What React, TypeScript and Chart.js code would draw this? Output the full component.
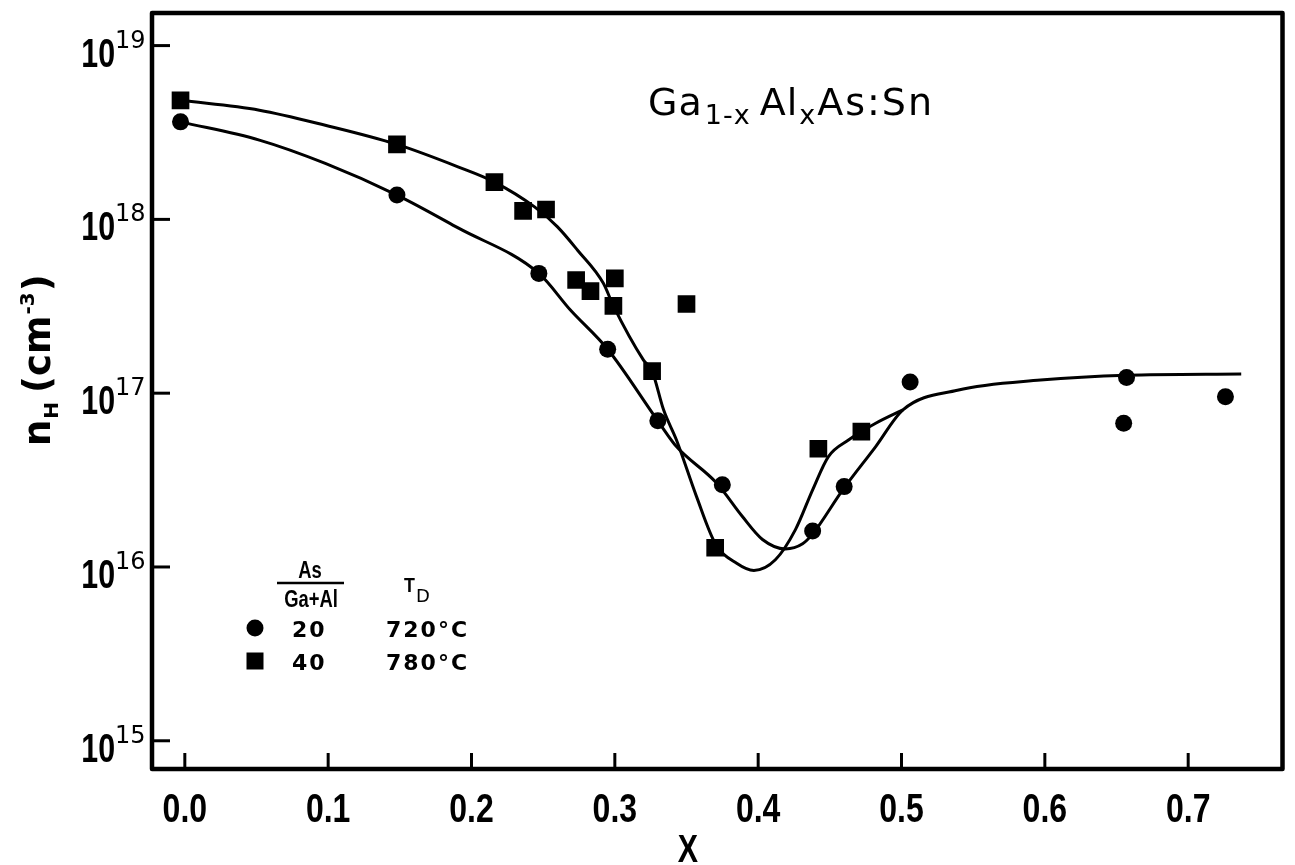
import React, { useEffect, useRef } from "react";
import { Chart, registerables } from "chart.js";

Chart.register(...registerables);

// ---- axis ticks ----
const xTickValues = [0, 0.1, 0.2, 0.3, 0.4, 0.5, 0.6, 0.7];
const xTickLabels = ["0.0", "0.1", "0.2", "0.3", "0.4", "0.5", "0.6", "0.7"];
const yTickValues = [1e15, 1e16, 1e17, 1e18, 1e19];
const yTickExponents = ["15", "16", "17", "18", "19"];

// ---- measured points: As/(Ga+Al)=20, TD=720°C (circles) ----
const circleX = [-0.003, 0.148, 0.247, 0.295, 0.33, 0.375, 0.438, 0.46, 0.506, 0.655, 0.657, 0.726];
const circleY = [3.64e18, 1.38e18, 4.89e17, 1.79e17, 6.93e16, 2.97e16, 1.61e16, 2.9e16, 1.16e17, 6.71e16, 1.23e17, 9.55e16];

// ---- measured points: As/(Ga+Al)=40, TD=780°C (squares) ----
const squareX = [-0.003, 0.148, 0.216, 0.236, 0.252, 0.273, 0.283, 0.299, 0.3, 0.326, 0.35, 0.37, 0.442, 0.472];
const squareY = [4.84e18, 2.7e18, 1.64e18, 1.12e18, 1.14e18, 4.48e17, 3.87e17, 3.18e17, 4.58e17, 1.34e17, 3.26e17, 1.29e16, 4.79e16, 6.01e16];

// ---- fitted curve through circles ----
const fit720X = [-0.003, 0.052, 0.098, 0.148, 0.191, 0.247, 0.269, 0.295, 0.33, 0.343, 0.371, 0.389, 0.403, 0.419, 0.431, 0.438, 0.459, 0.482, 0.501, 0.539, 0.597, 0.657, 0.737];
const fit720Y = [3.64e18, 2.86e18, 2.1e18, 1.38e18, 8.9e17, 4.89e17, 3.01e17, 1.79e17, 6.93e16, 4.93e16, 3.04e16, 1.95e16, 1.44e16, 1.27e16, 1.36e16, 1.55e16, 2.78e16, 4.93e16, 8.02e16, 1.04e17, 1.19e17, 1.27e17, 1.29e17];

// ---- fitted curve through squares ----
const fit780X = [-0.003, 0.052, 0.098, 0.148, 0.191, 0.216, 0.244, 0.26, 0.274, 0.292, 0.299, 0.32, 0.326, 0.334, 0.343, 0.357, 0.37, 0.385, 0.397, 0.412, 0.426, 0.438, 0.449, 0.463, 0.482, 0.501];
const fit780Y = [4.84e18, 4.25e18, 3.48e18, 2.7e18, 2.0e18, 1.64e18, 1.18e18, 9.06e17, 6.65e17, 4.29e17, 3.18e17, 1.55e17, 1.34e17, 8.02e16, 5.38e16, 2.54e16, 1.37e16, 1.05e16, 9.55e15, 1.1e16, 1.64e16, 2.78e16, 4.32e16, 5.38e16, 6.71e16, 8.02e16];

// ---- legend text ----
const legendRatios = ["20", "40"];
const legendTemps = ["720°C", "780°C"];

const CONDENSED = "'Liberation Sans', Arial, sans-serif";
const ROUND = "'DejaVu Sans', Verdana, sans-serif";

function toPts(xs: number[], ys: number[]) {
  return xs.map((x, i) => ({ x, y: ys[i] }));
}

function drawCondensed(ctx: CanvasRenderingContext2D, text: string, x: number, y: number, font: string, sx: number, align: CanvasTextAlign) {
  ctx.save();
  ctx.translate(x, y);
  ctx.scale(sx, 1);
  ctx.font = font;
  ctx.textAlign = align;
  ctx.textBaseline = "alphabetic";
  ctx.fillText(text, 0, 0);
  ctx.restore();
}

const decorPlugin = {
  id: "decor",
  afterDraw(chart: any) {
    const ctx: CanvasRenderingContext2D = chart.ctx;
    const { left, right, top, bottom } = chart.chartArea;
    const xs = chart.scales.x;
    const ys = chart.scales.y;
    ctx.save();
    ctx.strokeStyle = "#000";
    ctx.fillStyle = "#000";

    // frame
    ctx.lineWidth = 4.5;
    ctx.lineJoin = "round";
    ctx.strokeRect(left, top, right - left, bottom - top);

    // y ticks + labels
    ctx.lineWidth = 3;
    yTickValues.forEach((v, i) => {
      const py = ys.getPixelForValue(v);
      ctx.beginPath();
      ctx.moveTo(left, py);
      ctx.lineTo(left + 18, py);
      ctx.stroke();
      drawCondensed(ctx, "10", 115, py + 21, `bold 41px ${CONDENSED}`, 0.74, "right");
      ctx.font = `24px ${ROUND}`;
      ctx.textAlign = "left";
      ctx.textBaseline = "alphabetic";
      ctx.fillText(yTickExponents[i], 115, py + 2);
    });

    // x ticks + labels
    xTickValues.forEach((v, i) => {
      const px = xs.getPixelForValue(v);
      ctx.beginPath();
      ctx.moveTo(px, bottom);
      ctx.lineTo(px, bottom - 16);
      ctx.stroke();
      drawCondensed(ctx, xTickLabels[i], px, 822, `bold 40px ${CONDENSED}`, 0.8, "center");
    });

    // x title
    drawCondensed(ctx, "X", 688, 862, `bold 38px ${CONDENSED}`, 0.8, "center");

    // y title (rotated)
    ctx.save();
    ctx.translate(50, 446);
    ctx.rotate(-Math.PI / 2);
    ctx.textAlign = "left";
    ctx.textBaseline = "alphabetic";
    let cx = 0;
    const big = `bold 37px ${ROUND}`;
    const small = `bold 20px ${ROUND}`;
    ctx.font = big;
    ctx.fillText("n", cx, 0);
    cx += ctx.measureText("n").width + 1;
    ctx.font = small;
    ctx.fillText("H", cx, 8);
    cx += ctx.measureText("H").width + 9;
    ctx.font = big;
    ctx.fillText("(cm", cx, 0);
    cx += ctx.measureText("(cm").width + 1;
    ctx.font = small;
    ctx.fillText("-3", cx, -16);
    cx += ctx.measureText("-3").width + 1;
    ctx.font = big;
    ctx.fillText(")", cx, 0);
    ctx.restore();

    // annotation title Ga1-x Alx As:Sn
    {
      const main = `38px ${ROUND}`;
      const sub = `27px ${ROUND}`;
      let tx = 648;
      const base = 115;
      ctx.textAlign = "left";
      ctx.font = main;
      (ctx as any).letterSpacing = "1px";
      ctx.fillText("Ga", tx, base);
      tx += ctx.measureText("Ga").width + 2;
      ctx.font = sub;
      ctx.fillText("1-x", tx, base + 9);
      tx += ctx.measureText("1-x").width + 9;
      ctx.font = main;
      ctx.fillText("Al", tx, base);
      tx += ctx.measureText("Al").width + 1;
      ctx.font = sub;
      ctx.fillText("x", tx, base + 9);
      tx += ctx.measureText("x").width + 1;
      ctx.font = main;
      (ctx as any).letterSpacing = "2px";
      ctx.fillText("As:Sn", tx, base);
      (ctx as any).letterSpacing = "0px";
    }

    // legend header
    drawCondensed(ctx, "As", 310, 578, `bold 23px ${CONDENSED}`, 0.8, "center");
    ctx.lineWidth = 2.5;
    ctx.beginPath();
    ctx.moveTo(277, 583);
    ctx.lineTo(344, 583);
    ctx.stroke();
    drawCondensed(ctx, "Ga+Al", 311, 607, `bold 23px ${CONDENSED}`, 0.8, "center");
    drawCondensed(ctx, "T", 404, 592, `bold 21px ${CONDENSED}`, 0.85, "left");
    ctx.font = `18px ${ROUND}`;
    ctx.textAlign = "left";
    ctx.fillText("D", 416, 602);

    // legend rows
    const rowsY = [628, 661];
    rowsY.forEach((ry, i) => {
      ctx.beginPath();
      if (i === 0) {
        ctx.arc(255, ry, 8.5, 0, Math.PI * 2);
      } else {
        ctx.rect(246.5, ry - 8.5, 17, 17);
      }
      ctx.fill();
      ctx.font = `bold 22px ${ROUND}`;
      (ctx as any).letterSpacing = "2px";
      ctx.fillText(legendRatios[i], 292, ry + 8.5);
      ctx.fillText(legendTemps[i], 386, ry + 8.5);
      (ctx as any).letterSpacing = "0px";
    });

    ctx.restore();
  },
};

export default function App() {
  const canvasRef = useRef<HTMLCanvasElement | null>(null);

  useEffect(() => {
    const canvas = canvasRef.current;
    if (!canvas) return;
    const chart = new Chart(canvas, {
      type: "line",
      data: {
        datasets: [
          {
            label: "fit 720",
            data: toPts(fit720X, fit720Y),
            borderColor: "#000",
            borderWidth: 3,
            pointRadius: 0,
            cubicInterpolationMode: "monotone",
            fill: false,
          },
          {
            label: "fit 780",
            data: toPts(fit780X, fit780Y),
            borderColor: "#000",
            borderWidth: 3,
            pointRadius: 0,
            cubicInterpolationMode: "monotone",
            fill: false,
          },
          {
            label: "20 / 720°C",
            data: toPts(circleX, circleY),
            showLine: false,
            pointStyle: "circle",
            pointRadius: 8.5,
            pointBackgroundColor: "#000",
            pointBorderWidth: 0,
            borderColor: "#000",
          },
          {
            label: "40 / 780°C",
            data: toPts(squareX, squareY),
            showLine: false,
            pointStyle: "rect",
            pointRadius: 12.5,
            pointBackgroundColor: "#000",
            pointBorderWidth: 0,
            borderColor: "#000",
          },
        ],
      },
      options: {
        animation: false,
        responsive: false,
        events: [],
        layout: { padding: { left: 152, top: 13, right: 5, bottom: 96 } },
        plugins: { legend: { display: false }, tooltip: { enabled: false } },
        scales: {
          x: { type: "linear", min: -0.0229, max: 0.7658, display: false },
          y: { type: "logarithmic", min: 6.88e14, max: 1.54e19, display: false },
        },
      },
      plugins: [decorPlugin],
    });
    return () => chart.destroy();
  }, []);

  return (
    <div style={{ position: "absolute", left: 0, top: 0, width: 1295, height: 865, background: "#fff" }}>
      <canvas ref={canvasRef} width={1295} height={865} style={{ display: "block" }} />
    </div>
  );
}
